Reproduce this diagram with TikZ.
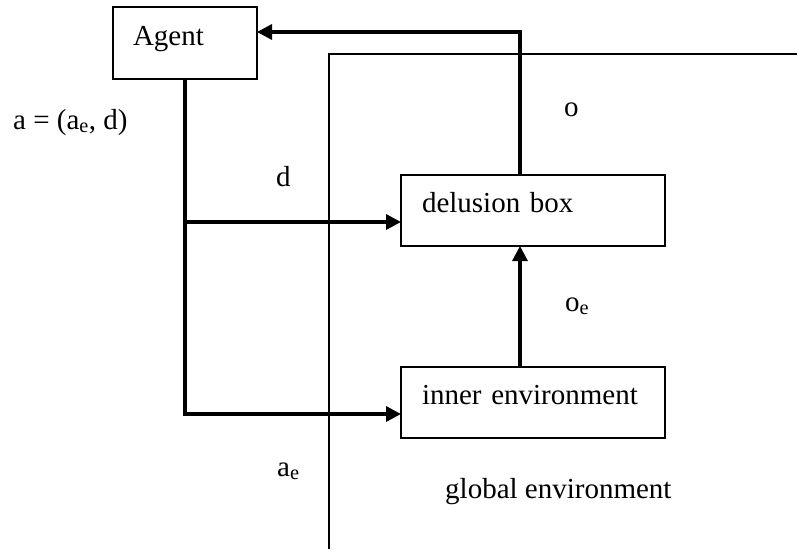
\documentclass[tikz,border=0pt]{standalone}
\usepackage{fontspec}
\setmainfont{Liberation Serif}
\usetikzlibrary{arrows.meta}
\begin{document}
\begin{tikzpicture}[x=1pt,y=-1pt,
  box/.style={draw, line width=2pt, anchor=north west, inner xsep=20pt, inner ysep=0pt, outer sep=0pt,
    align=left, text height=20pt, text depth=16pt, font=\fontsize{29}{34}\selectfont},
  lbl/.style={anchor=base west, inner sep=0pt, font=\fontsize{29}{34}\selectfont},
  flow/.style={line width=3.3pt, -{Triangle[length=15pt,width=15pt]}},
  envline/.style={line width=2pt}]
\useasboundingbox (0,0) rectangle (797,557);

% boxes
\node[box, minimum width=144pt, minimum height=72pt, text width=104pt] (agent) at (113,7) {Agent};
\node[box, minimum width=264pt, minimum height=71pt, text width=222pt, inner xsep=21pt] (delusion) at (401,175) {delusion box};
\node[box, minimum width=264pt, minimum height=71pt, text width=222pt, inner xsep=21pt] (inner) at (401,367) {inner environment};

% global environment boundary
\coordinate (ge1) at (329,549);
\coordinate (ge2) at (329,54);
\coordinate (ge3) at (797,54);
\draw[envline] (ge1) -- (ge2) -- (ge3);

% helper coordinates
\coordinate (oline) at (520,32);
\coordinate (dline) at (185,222);
\coordinate (aline) at (185,414);

% connectors
\draw[flow] (delusion.north -| oline) -- (oline) -- (agent.east |- oline);
\draw[flow] (agent.south) -- (agent.south |- aline) -- (inner.west |- aline);
\draw[flow] (agent.south |- dline) -- (delusion.west |- dline);
\draw[flow] (inner.north -| oline) -- (delusion.south -| oline);

% labels
\node[lbl] (lblA) at (13,129) {a = (a\textsubscript{e}, d)};
\node[lbl] (lbld) at (276,186) {d};
\node[lbl] (lblo) at (564,116) {o};
\node[lbl] (lbloe) at (565,311) {o\textsubscript{e}};
\node[lbl] (lblae) at (277,476) {a\textsubscript{e}};
\node[lbl] (lblge) at (445,498) {global environment};
\end{tikzpicture}
\end{document}
